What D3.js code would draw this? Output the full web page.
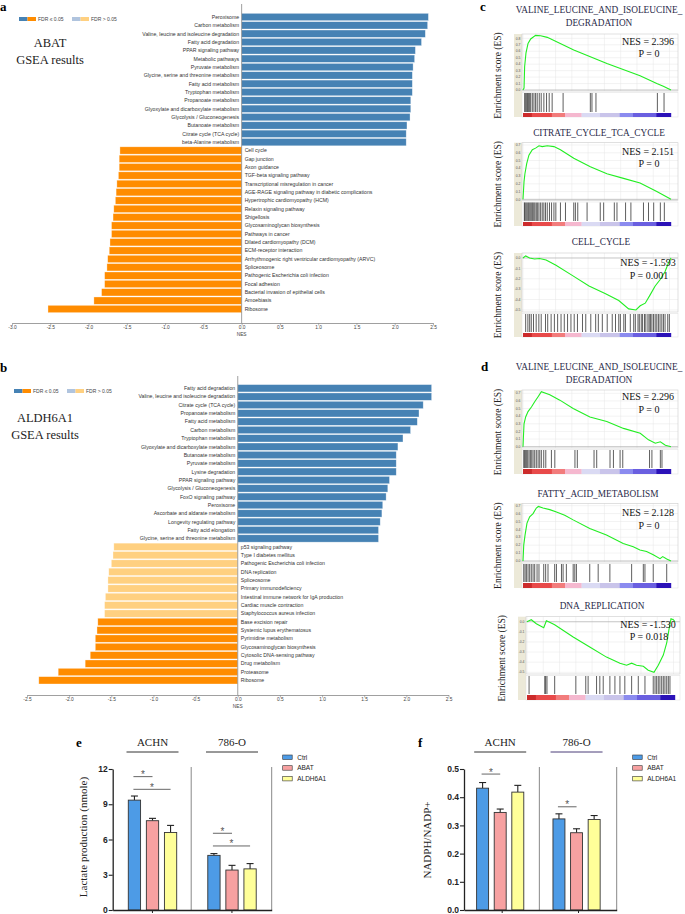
<!DOCTYPE html>
<html>
<head>
<meta charset="utf-8">
<script src="https://cdn.jsdelivr.net/npm/d3@7"></script>
<style>
  body { margin: 0; background: #fff; }
  svg { display: block; }
</style>
</head>
<body>
<svg id="fig" width="685" height="914"></svg>
<script>
/* ---------- data: panel a (ABAT GSEA) ---------- */
const aPathways = [
  'Peroxisome', 'Carbon metabolism', 'Valine, leucine and isoleucine degradation', 'Fatty acid degradation',
  'PPAR signaling pathway', 'Metabolic pathways', 'Pyruvate metabolism', 'Glycine, serine and threonine metabolism',
  'Fatty acid metabolism', 'Tryptophan metabolism', 'Propanoate metabolism', 'Glyoxylate and dicarboxylate metabolism',
  'Glycolysis / Gluconeogenesis', 'Butanoate metabolism', 'Citrate cycle (TCA cycle)', 'beta-Alanine metabolism',
  'Cell cycle', 'Gap junction', 'Axon guidance', 'TGF-beta signaling pathway', 'Transcriptional misregulation in cancer',
  'AGE-RAGE signaling pathway in diabetic complications', 'Hypertrophic cardiomyopathy (HCM)', 'Relaxin signaling pathway',
  'Shigellosis', 'Glycosaminoglycan biosynthesis', 'Pathways in cancer', 'Dilated cardiomyopathy (DCM)',
  'ECM-receptor interaction', 'Arrhythmogenic right ventricular cardiomyopathy (ARVC)', 'Spliceosome',
  'Pathogenic Escherichia coli infection', 'Focal adhesion', 'Bacterial invasion of epithelial cells', 'Amoebiasis', 'Ribosome'
];
const aNES = [
  2.44, 2.43, 2.40, 2.35, 2.27, 2.26, 2.24, 2.23, 2.23, 2.23, 2.21, 2.21, 2.20, 2.16, 2.15, 2.15,
  -1.59, -1.60, -1.60, -1.61, -1.63, -1.64, -1.65, -1.67, -1.68, -1.70, -1.70, -1.72, -1.73, -1.75,
  -1.76, -1.79, -1.79, -1.83, -1.93, -2.53
];
const aFdrPass = aNES.map(() => true);
const aTicks = [-3.0, -2.5, -2.0, -1.5, -1.0, -0.5, 0.0, 0.5, 1.0, 1.5, 2.0, 2.5];

/* ---------- data: panel b (ALDH6A1 GSEA) ---------- */
const bPathways = [
  'Fatty acid degradation', 'Valine, leucine and isoleucine degradation', 'Citrate cycle (TCA cycle)',
  'Propanoate metabolism', 'Fatty acid metabolism', 'Carbon metabolism', 'Tryptophan metabolism',
  'Glyoxylate and dicarboxylate metabolism', 'Butanoate metabolism', 'Pyruvate metabolism', 'Lysine degradation',
  'PPAR signaling pathway', 'Glycolysis / Gluconeogenesis', 'FoxO signaling pathway', 'Peroxisome',
  'Ascorbate and aldarate metabolism', 'Longevity regulating pathway', 'Fatty acid elongation',
  'Glycine, serine and threonine metabolism',
  'p53 signaling pathway', 'Type I diabetes mellitus', 'Pathogenic Escherichia coli infection', 'DNA replication',
  'Spliceosome', 'Primary immunodeficiency', 'Intestinal immune network for IgA production', 'Cardiac muscle contraction',
  'Staphylococcus aureus infection', 'Base excision repair', 'Systemic lupus erythematosus', 'Pyrimidine metabolism',
  'Glycosaminoglycan biosynthesis', 'Cytosolic DNA-sensing pathway', 'Drug metabolism', 'Proteasome', 'Ribosome'
];
const bNES = [
  2.30, 2.30, 2.20, 2.15, 2.13, 2.05, 1.96, 1.90, 1.88, 1.88, 1.88, 1.80, 1.78, 1.76, 1.72, 1.71, 1.69, 1.67, 1.67,
  -1.47, -1.48, -1.50, -1.53, -1.54, -1.54, -1.57, -1.58, -1.58,
  -1.66, -1.67, -1.69, -1.69, -1.75, -1.81, -2.13, -2.36
];
const bFdrPass = [
  true, true, true, true, true, true, true, true, true, true, true, true, true, true, true, true, true, true, true,
  false, false, false, false, false, false, false, false, false,
  true, true, true, true, true, true, true, true
];
const bTicks = [-2.5, -2.0, -1.5, -1.0, -0.5, 0.0, 0.5, 1.0, 1.5, 2.0, 2.5];

/* ---------- data: panels c/d (enrichment plots) ---------- */
const gseaTitles = [
  ['VALINE_LEUCINE_AND_ISOLEUCINE_', 'DEGRADATION'], ['CITRATE_CYCLE_TCA_CYCLE'], ['CELL_CYCLE'],
  ['VALINE_LEUCINE_AND_ISOLEUCINE_', 'DEGRADATION'], ['FATTY_ACID_METABOLISM'], ['DNA_REPLICATION']
];
const gseaNES = ['2.396', '2.151', '-1.593', '2.296', '2.128', '-1.530'];
const gseaP = ['0', '0', '0.001', '0', '0', '0.018'];
const gseaTicks = [
  [0.0, 0.1, 0.2, 0.3, 0.4, 0.5, 0.6, 0.7, 0.8],
  [0.0, 0.1, 0.2, 0.3, 0.4, 0.5, 0.6, 0.7],
  [0.0, -0.1, -0.2, -0.3, -0.4, -0.5],
  [0.0, 0.1, 0.2, 0.3, 0.4, 0.5, 0.6, 0.7],
  [0.0, 0.1, 0.2, 0.3, 0.4, 0.5, 0.6, 0.7],
  [0.0, -0.1, -0.2, -0.3, -0.4, -0.5]
];
// running enrichment score: [rank % of list, ES]
const esValine1 = [[0,0],[0.7,0.03],[1.1,0.36],[2.0,0.57],[3.4,0.72],[5.2,0.79],[8.5,0.845],[11.9,0.84],[16.4,0.815],
  [34.3,0.62],[56.7,0.41],[79.1,0.22],[90.4,0.10],[94.8,0.06],[100,0]];
const esCitrate = [[0,0],[0.7,0.23],[1.3,0.33],[2.5,0.46],[4.0,0.57],[6.3,0.64],[8.5,0.66],[10.8,0.69],[13.0,0.68],
  [16.4,0.69],[20.9,0.68],[25.3,0.64],[34.3,0.53],[45.5,0.42],[56.7,0.33],[67.9,0.27],[79.1,0.21],[90.4,0.10],[100,0]];
const esCellCycle = [[0,0],[1.8,0.02],[4.5,0.0],[7.8,-0.01],[11.2,-0.005],[15.6,-0.02],[22.3,-0.07],[33.5,-0.17],
  [44.6,-0.27],[55.8,-0.345],[64.7,-0.41],[71.4,-0.49],[76.3,-0.5],[79.2,-0.46],[82.6,-0.435],[85.9,-0.355],
  [89.3,-0.27],[92.6,-0.21],[96.0,-0.13],[98.2,-0.05],[100,0]];
const esValine2 = [[0,0],[0.2,0.09],[0.7,0.3],[1.8,0.39],[3.4,0.46],[5.7,0.52],[7.9,0.59],[10.2,0.655],[12.4,0.72],
  [18.1,0.68],[24.9,0.61],[33.9,0.50],[45.2,0.39],[56.6,0.33],[67.9,0.24],[79.2,0.175],[84.8,0.09],[89.4,0.045],
  [92.8,0.065],[96.2,0.02],[100,0]];
const esFattyAcid = [[0,0],[0.5,0.2],[1.4,0.33],[2.7,0.48],[4.5,0.56],[6.8,0.60],[9.0,0.67],[10.4,0.69],[13.5,0.67],
  [18.1,0.65],[22.6,0.62],[28.2,0.58],[33.9,0.52],[45.1,0.41],[56.4,0.33],[67.7,0.22],[74.5,0.18],[79.0,0.14],
  [83.5,0.12],[88.0,0.08],[92.6,0.03],[94.4,0.055],[97.1,0.025],[100,0]];
const esDnaRep = [[0,0],[2.9,0.02],[6.3,-0.02],[11.3,-0.06],[13.1,0.01],[15.3,-0.005],[18.7,-0.03],[31.2,-0.15],
  [42.4,-0.25],[53.7,-0.35],[62.8,-0.41],[67.3,-0.43],[70.7,-0.41],[74.0,-0.43],[78.6,-0.44],[81.9,-0.48],
  [85.8,-0.5],[88.7,-0.43],[92.1,-0.33],[94.4,-0.21],[96.0,-0.07],[97.3,0.03],[98.9,0.02],[100,0]];
// gene-set member positions in the ranked list (rank %)
const hitsValine1 = [1.1,1.8,2.5,3.1,3.8,4.5,5.2,6.3,7.4,8.5,9.6,11.0,12.3,14.1,15.9,17.7,19.7,27.1,45.5,46.6,49.3,90.8,95.3];
const hitsCitrate = [0.9,1.3,2.0,2.7,3.4,4.0,4.7,5.4,6.1,6.7,7.4,8.1,9.0,9.9,10.8,11.9,13.0,14.1,15.2,16.4,17.9,19.3,
  20.9,22.2,25.3,28.7,34.3,35.4,37.0,43.3,52.2,54.5,61.7,63.5,69.3,72.9,81.4,84.8,88.3,92.8,95.5];
const hitsCellCycle = [1.8,3.3,4.5,5.6,7.1,8.9,10.7,12.3,15.2,16.7,19.0,21.2,23.4,25.7,27.9,30.1,32.4,34.6,36.8,40.2,
  42.4,45.8,49.1,50.9,53.6,56.9,60.3,62.5,64.7,65.8,68.1,69.2,72.5,74.8,75.9,77.7,78.6,79.9,80.8,82.1,83.0,84.4,
  85.3,86.2,87.1,88.2,89.3,90.4,91.5,92.6,93.8,94.9,96.0,97.8,98.9];
const hitsValine2 = [0.5,1.1,1.8,2.5,3.2,4.1,5.0,5.9,6.8,7.9,9.0,10.2,11.3,12.4,14.0,15.4,19.2,21.5,35.1,36.7,48.0,
  49.8,58.8,61.1,65.6,67.4,85.5,87.1,92.8,93.9];
const hitsFattyAcid = [0.5,1.4,2.3,3.4,4.5,5.6,6.8,7.9,9.5,10.8,14.0,15.3,16.9,21.4,22.6,26.0,27.1,29.3,33.9,35.0,
  36.1,45.1,50.8,58.7,73.4,81.3,82.4,88.0,97.1];
const hitsDnaRep = [1.4,12.0,12.6,13.5,18.7,33.0,39.7,41.3,47.0,49.2,51.5,56.0,59.4,62.8,66.1,70.7,75.2,79.7,85.3,
  86.5,87.6,88.7,89.8,91.0,92.1,93.2,94.4,95.5,96.6];
const gseaCurves = [esValine1, esCitrate, esCellCycle, esValine2, esFattyAcid, esDnaRep];
const gseaHits = [hitsValine1, hitsCitrate, hitsCellCycle, hitsValine2, hitsFattyAcid, hitsDnaRep];
const rankStops = [0, 6, 19.5, 28.4, 39.6, 52, 65.3, 74.3, 90, 100];

/* ---------- data: panels e/f ---------- */
const cellLines = ['ACHN', '786-O'];
const treatments = ['Ctrl', 'ABAT', 'ALDH6A1'];
const lactateMean = [[9.35, 7.6, 6.6], [4.65, 3.4, 3.5]];
const lactateSem = [[0.35, 0.2, 0.6], [0.15, 0.4, 0.45]];
const lactateTicks = [0, 3, 6, 9, 12];
const lactateSig = [[0, 'Ctrl', 'ABAT', 11.35], [0, 'Ctrl', 'ALDH6A1', 10.27], [1, 'Ctrl', 'ABAT', 6.53], [1, 'Ctrl', 'ALDH6A1', 5.45]];
const nadphMean = [[0.432, 0.346, 0.418], [0.323, 0.274, 0.321]];
const nadphSem = [[0.02, 0.012, 0.024], [0.018, 0.014, 0.014]];
const nadphTicks = [0, 0.1, 0.2, 0.3, 0.4, 0.5];
const nadphSig = [[0, 'Ctrl', 'ABAT', 0.482], [1, 'Ctrl', 'ABAT', 0.366]];

/* ---------- styles ---------- */
const nesColors = { pos: '#4682b4', neg: '#ff8c00', posNs: '#b0c4de', negNs: '#ffd080' };
const rankColors = ['#cc2b2b', '#e84a4a', '#f27c7c', '#f5b8cf', '#dadaf3', '#c9c4ea', '#8b8bef', '#6a5fe0', '#2b12b8'];
const treatColor = d3.scaleOrdinal(treatments, ['#4d9be6', '#f7a1a1', '#ffff99']);
const serif = '"Liberation Serif", "Times New Roman", serif';
const sans = '"Liberation Sans", Arial, sans-serif';

const svg = d3.select('#fig');

function panelLetter(t, x, y) {
  svg.append('text').attr('x', x).attr('y', y).text(t)
    .style('font-family', serif).style('font-weight', 'bold').style('font-size', '13px');
}

/* ---------- NES bar panels (a, b) ---------- */
function nesPanel(cfg, names, nes, pass, ticks) {
  const g = svg.append('g');
  const x = d3.scaleLinear().domain(cfg.domain).range(cfg.xRange);
  const y = d3.scaleBand().domain(names).range(cfg.yRange).paddingInner(0.12).paddingOuter(0.06);
  const rows = names.map((n, i) => ({ name: n, v: nes[i], ok: pass[i] }));

  g.selectAll('rect.bar').data(rows).join('rect')
    .attr('class', 'bar')
    .attr('x', d => x(Math.min(0, d.v)))
    .attr('width', d => Math.abs(x(d.v) - x(0)))
    .attr('y', d => y(d.name))
    .attr('height', y.bandwidth())
    .attr('fill', d => d.v > 0 ? (d.ok ? nesColors.pos : nesColors.posNs) : (d.ok ? nesColors.neg : nesColors.negNs))
    .attr('stroke', '#fff').attr('stroke-opacity', 0.55).attr('stroke-width', 0.6);

  g.selectAll('text.lab').data(rows).join('text')
    .attr('class', 'lab')
    .attr('x', d => d.v > 0 ? x(0) - 2.5 : x(0) + 3)
    .attr('y', d => y(d.name) + y.bandwidth() / 2)
    .attr('dy', '0.35em')
    .attr('text-anchor', d => d.v > 0 ? 'end' : 'start')
    .style('font-family', sans).style('font-size', '5.2px').style('fill', '#333')
    .text(d => d.name);

  g.append('line')
    .attr('x1', x(0)).attr('x2', x(0)).attr('y1', cfg.zeroTop).attr('y2', cfg.axisY)
    .attr('stroke', '#888').attr('stroke-width', 0.8);

  const ax = g.append('g').attr('transform', `translate(0,${cfg.axisY})`)
    .call(d3.axisBottom(x).tickValues(ticks).tickSize(2.5).tickSizeOuter(0).tickFormat(d => d.toFixed(1)));
  ax.select('.domain').attr('stroke', '#888').attr('stroke-width', 0.8);
  ax.selectAll('.tick line').attr('stroke', '#888').attr('stroke-width', 0.6);
  ax.selectAll('.tick text').attr('y', 3).style('font-family', sans).style('font-size', '4.8px').style('fill', '#444');
  g.append('text').attr('x', x(0)).attr('y', cfg.axisY + 13).attr('text-anchor', 'middle')
    .style('font-family', sans).style('font-size', '4.8px').style('fill', '#444').text('NES');

  // legend
  const lg = g.append('g').attr('transform', `translate(${cfg.legend[0]},${cfg.legend[1]})`);
  [[nesColors.pos, nesColors.neg, 'FDR \u2264 0.05', 0], [nesColors.posNs, nesColors.negNs, 'FDR > 0.05', 53]].forEach(l => {
    lg.append('rect').attr('x', l[3]).attr('y', -2).attr('width', 8.5).attr('height', 4).attr('fill', l[0]);
    lg.append('rect').attr('x', l[3] + 8.5).attr('y', -2).attr('width', 8.5).attr('height', 4).attr('fill', l[1]);
    lg.append('text').attr('x', l[3] + 19).attr('y', 0).attr('dy', '0.35em')
      .style('font-family', sans).style('font-size', '5px').style('fill', '#444').text(l[2]);
  });

  cfg.title.forEach((t, i) => {
    g.append('text').attr('x', cfg.titleX).attr('y', cfg.titleY + i * 17).attr('text-anchor', 'middle')
      .style('font-family', serif).style('font-size', '12.5px').style('fill', '#222').text(t);
  });
}

nesPanel({ domain: [-3, 2.5], xRange: [12, 433], yRange: [12.83, 313.17], zeroTop: 4, axisY: 323,
  legend: [19, 19], title: ['ABAT', 'GSEA results'], titleX: 50, titleY: 47 }, aPathways, aNES, aFdrPass, aTicks);
nesPanel({ domain: [-2.5, 2.5], xRange: [27, 448.5], yRange: [384.1, 684.5], zeroTop: 376, axisY: 695,
  legend: [14, 391], title: ['ALDH6A1', 'GSEA results'], titleX: 45, titleY: 422 }, bPathways, bNES, bFdrPass, bTicks);

panelLetter('a', 0, 11);
panelLetter('b', 0, 372);

/* ---------- enrichment plots (c, d) ---------- */
const gseaLayout = [
  { left: 522, right: 678, titleX: 599, titleY: [13.2, 26.2], top: 34, esBottom: 91, hitBottom: 113, barBottom: 117, esDomain: [-0.015, 0.867], nesY: 45, pY: 56.6 },
  { left: 522, right: 678, titleX: 599, titleY: [136.2], top: 142.7, esBottom: 200.5, hitBottom: 222, barBottom: 226, esDomain: [-0.015, 0.73], nesY: 155, pY: 166.6 },
  { left: 522, right: 678, titleX: 601, titleY: [245.2], top: 253, esBottom: 312, hitBottom: 333, barBottom: 337, esDomain: [-0.52, 0.048], nesY: 265.6, pY: 279 },
  { left: 522, right: 678, titleX: 599, titleY: [370.2, 383.2], top: 390, esBottom: 448, hitBottom: 469, barBottom: 474, esDomain: [-0.017, 0.743], nesY: 400, pY: 412.6 },
  { left: 522, right: 678, titleX: 598, titleY: [496.5], top: 503.3, esBottom: 562, hitBottom: 583, barBottom: 588, esDomain: [-0.013, 0.73], nesY: 515.6, pY: 529 },
  { left: 526, right: 680, titleX: 602, titleY: [609], top: 616.7, esBottom: 674, hitBottom: 695, barBottom: 700, esDomain: [-0.517, 0.05], nesY: 628.3, pY: 640.3 }
];

gseaLayout.forEach((L, k) => {
  const g = svg.append('g');
  const x = d3.scaleLinear().domain([0, 100]).range([L.left + 1, L.left + 149]);
  const y = d3.scaleLinear().domain(L.esDomain).range([L.esBottom, L.top]);

  // beige tick strip
  g.append('rect').attr('x', L.left - 8).attr('y', L.top).attr('width', 8).attr('height', L.barBottom - L.top)
    .attr('fill', '#ece9d8');

  // grid
  g.selectAll('line.vg').data(d3.range(0, 101, 11)).join('line').attr('class', 'vg')
    .attr('x1', d => x(d)).attr('x2', d => x(d)).attr('y1', L.top).attr('y2', L.esBottom)
    .attr('stroke', '#e6e6e6').attr('stroke-width', 0.5);
  g.selectAll('line.hg').data(gseaTicks[k]).join('line').attr('class', 'hg')
    .attr('x1', L.left).attr('x2', L.right).attr('y1', d => y(d)).attr('y2', d => y(d))
    .attr('stroke', d => d === 0 ? '#aaa' : '#e6e6e6').attr('stroke-width', d => d === 0 ? 0.7 : 0.5);

  g.selectAll('text.tk').data(gseaTicks[k]).join('text').attr('class', 'tk')
    .attr('x', L.left - 1.5).attr('y', d => y(d)).attr('dy', '0.35em').attr('text-anchor', 'end')
    .style('font-family', sans).style('font-size', '3.4px').style('fill', '#555')
    .text(d => d.toFixed(1));

  // frames
  g.append('rect').attr('x', L.left).attr('y', L.top).attr('width', L.right - L.left).attr('height', L.esBottom - L.top)
    .attr('fill', 'none').attr('stroke', '#ccc').attr('stroke-width', 0.6);
  g.append('rect').attr('x', L.left).attr('y', L.esBottom + 1.5).attr('width', L.right - L.left)
    .attr('height', L.barBottom - L.esBottom - 1.5).attr('fill', 'none').attr('stroke', '#ddd').attr('stroke-width', 0.5);

  // hits
  g.selectAll('line.hit').data(gseaHits[k]).join('line').attr('class', 'hit')
    .attr('x1', d => x(d)).attr('x2', d => x(d)).attr('y1', L.esBottom + 2).attr('y2', L.hitBottom - 1)
    .attr('stroke', '#1a1a1a').attr('stroke-width', 0.7);

  // rank colour bar
  g.selectAll('rect.cb').data(rankColors).join('rect').attr('class', 'cb')
    .attr('x', (c, i) => x(rankStops[i])).attr('width', (c, i) => x(rankStops[i + 1]) - x(rankStops[i]) + 0.2)
    .attr('y', L.hitBottom).attr('height', L.barBottom - L.hitBottom)
    .attr('fill', c => c);

  // running ES
  g.append('path').datum(gseaCurves[k])
    .attr('d', d3.line().x(d => x(d[0])).y(d => y(d[1])))
    .attr('fill', 'none').attr('stroke', '#22ee22').attr('stroke-width', 1.1);

  // titles and labels
  gseaTitles[k].forEach((t, i) => {
    g.append('text').attr('x', L.titleX).attr('y', L.titleY[i]).attr('text-anchor', 'middle')
      .style('font-family', serif).style('font-size', '9.3px').style('fill', '#2b2b4a').text(t);
  });
  g.append('text').attr('x', 648).attr('y', L.nesY).attr('text-anchor', 'middle')
    .style('font-family', serif).style('font-size', '10px').style('fill', '#111').text('NES = ' + gseaNES[k]);
  g.append('text').attr('x', 649).attr('y', L.pY).attr('text-anchor', 'middle')
    .style('font-family', serif).style('font-size', '10px').style('fill', '#111').text('P = ' + gseaP[k]);
  const cy = (L.top + L.barBottom) / 2;
  g.append('text').attr('transform', `translate(${L.left - 21.5},${cy}) rotate(-90)`).attr('text-anchor', 'middle')
    .style('font-family', serif).style('font-size', '9.5px').style('fill', '#222').text('Enrichment score (ES)');
});

panelLetter('c', 480, 11);
panelLetter('d', 481, 371);

/* ---------- grouped bar panels (e, f) ---------- */
function groupPanel(cfg, mean, sem, ticks, sig) {
  const g = svg.append('g');
  const y = d3.scaleLinear().domain([0, ticks[ticks.length - 1]]).range([910, 769]);
  const gx = d3.scaleBand().domain(cellLines).range([cfg.x0, cfg.x1]);
  const bx = d3.scaleBand().domain(treatments).range(cfg.inner).paddingInner(0.32).paddingOuter(0.16);

  const rows = [];
  cellLines.forEach((c, i) => treatments.forEach((t, j) => rows.push({ c, t, m: mean[i][j], e: sem[i][j] })));

  // separators
  g.append('line').attr('x1', gx('786-O') - 1).attr('x2', gx('786-O') - 1).attr('y1', 767).attr('y2', 910)
    .attr('stroke', '#888').attr('stroke-width', 1);
  g.append('line').attr('x1', cfg.x1).attr('x2', cfg.x1).attr('y1', 767).attr('y2', 910)
    .attr('stroke', '#888').attr('stroke-width', 1);

  // error bars
  rows.forEach(d => {
    const cx = gx(d.c) + bx(d.t) + bx.bandwidth() / 2;
    g.append('line').attr('x1', cx).attr('x2', cx).attr('y1', y(d.m)).attr('y2', y(d.m + d.e))
      .attr('stroke', '#222').attr('stroke-width', 1.1);
    g.append('line').attr('x1', cx - 3.5).attr('x2', cx + 3.5).attr('y1', y(d.m + d.e)).attr('y2', y(d.m + d.e))
      .attr('stroke', '#222').attr('stroke-width', 1.1);
  });

  g.selectAll('rect.bar').data(rows).join('rect').attr('class', 'bar')
    .attr('x', d => gx(d.c) + bx(d.t)).attr('width', bx.bandwidth())
    .attr('y', d => y(d.m)).attr('height', d => y(0) - y(d.m))
    .attr('fill', d => treatColor(d.t)).attr('stroke', '#333').attr('stroke-width', 0.9);

  // significance
  sig.forEach(s => {
    const c = cellLines[s[0]];
    const xa = gx(c) + bx(s[1]) + bx.bandwidth() / 2 - 1;
    const xb = gx(c) + bx(s[2]) + bx.bandwidth() / 2;
    g.append('line').attr('x1', xa).attr('x2', xb).attr('y1', y(s[3])).attr('y2', y(s[3]))
      .attr('stroke', '#555').attr('stroke-width', 0.9);
    g.append('text').attr('x', (xa + xb) / 2).attr('y', y(s[3]) + 1.5).attr('text-anchor', 'middle')
      .style('font-family', sans).style('font-size', '10px').style('fill', '#555').text('*');
  });

  // axes
  const ay = g.append('g').attr('transform', `translate(${cfg.x0},0)`)
    .call(d3.axisLeft(y).tickValues(ticks).tickSize(4).tickSizeOuter(0).tickFormat(cfg.fmt));
  ay.select('.domain').attr('stroke', '#222').attr('stroke-width', 1.3);
  ay.selectAll('.tick line').attr('stroke', '#222').attr('stroke-width', 1.1);
  ay.selectAll('.tick text').attr('x', -5).style('font-family', sans).style('font-weight', 'bold')
    .style('font-size', '8.5px').style('fill', '#222');

  const axx = g.append('g').attr('transform', 'translate(0,910)')
    .call(d3.axisBottom(gx).tickSize(3).tickSizeOuter(0).tickFormat(''));
  axx.select('.domain').attr('stroke', '#222').attr('stroke-width', 1.3);
  axx.selectAll('.tick line').attr('stroke', '#222');

  g.append('text').attr('transform', `translate(${cfg.yLabelX},${cfg.yLabelY}) rotate(-90)`).attr('text-anchor', 'middle')
    .style('font-family', serif).style('font-size', '11px').style('fill', '#222').text(cfg.yLabel);

  // cell line headers
  cellLines.forEach((c, i) => {
    const cx = gx(c) + bx(treatments[1]) + bx.bandwidth() / 2;
    g.append('text').attr('x', cx).attr('y', 746).attr('text-anchor', 'middle')
      .style('font-family', serif).style('font-size', '11px').style('fill', '#222').text(c);
    g.append('line').attr('x1', cx - 26).attr('x2', cx + 26).attr('y1', 752).attr('y2', 752)
      .attr('stroke', cfg.underline[i]).attr('stroke-width', 1);
  });

  // legend
  treatments.forEach((t, i) => {
    g.append('rect').attr('x', cfg.legendX).attr('y', 755 + i * 10.7).attr('width', 9.5).attr('height', 4.5)
      .attr('fill', treatColor(t)).attr('stroke', '#333').attr('stroke-width', 0.6);
    g.append('text').attr('x', cfg.legendX + 14.5).attr('y', 757.3 + i * 10.7).attr('dy', '0.35em')
      .style('font-family', sans).style('font-size', '6.5px').style('fill', '#222').text(t);
  });
}

groupPanel({ x0: 112.7, x1: 271.7, inner: [12.7, 66.9], fmt: d3.format('d'),
  yLabel: 'Lactate production (nmole)', yLabelX: 87, yLabelY: 837, legendX: 282.7, underline: ['#333', '#333'] },
  lactateMean, lactateSem, lactateTicks, lactateSig);
groupPanel({ x0: 464, x1: 616.7, inner: [9.8, 62.6], fmt: d3.format('.1f'),
  yLabel: 'NADPH/NADP+', yLabelX: 431, yLabelY: 840, legendX: 632.7, underline: ['#333', '#4b3c78'] },
  nadphMean, nadphSem, nadphTicks, nadphSig);

panelLetter('e', 76, 747);
panelLetter('f', 418, 747);
</script>
</body>
</html>
